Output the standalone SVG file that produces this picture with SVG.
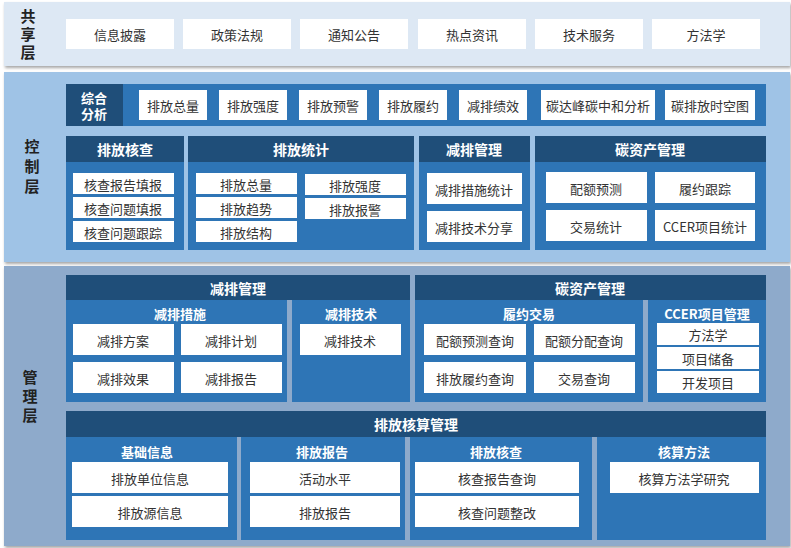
<svg xmlns="http://www.w3.org/2000/svg" width="791" height="548" viewBox="0 0 791 548">
<style>
text{font-family:"Noto Sans CJK SC","Noto Sans",sans-serif;text-anchor:middle;dominant-baseline:central}
.w{fill:#fff}
.t{font-size:13px;fill:#333}
.lay{font-size:15px;font-weight:bold;fill:#222}
.dk{fill:#1f4e79}
.md{fill:#2e75b6}
.h{font-size:14px;font-weight:bold;fill:#fff}
.s{font-size:13px;font-weight:bold;fill:#fff}
</style>
<defs><filter id="sh" x="-5%" y="-5%" width="110%" height="115%"><feDropShadow dx="1" dy="2" stdDeviation="1.5" flood-color="#000" flood-opacity="0.35"/></filter></defs>
<g id="shared">
<rect x="4" y="2" width="786" height="64" fill="#dde8f4" filter="url(#sh)"/>
<text class="lay" x="28" y="15">共</text><text class="lay" x="28" y="33">享</text><text class="lay" x="28" y="51">层</text>
<rect class="w" x="66" y="19" width="108" height="30"/><text class="t" x="120" y="34">信息披露</text>
<rect class="w" x="183" y="19" width="108" height="30"/><text class="t" x="237" y="34">政策法规</text>
<rect class="w" x="300" y="19" width="108" height="30"/><text class="t" x="354" y="34">通知公告</text>
<rect class="w" x="418" y="19" width="108" height="30"/><text class="t" x="472" y="34">热点资讯</text>
<rect class="w" x="535" y="19" width="108" height="30"/><text class="t" x="589" y="34">技术服务</text>
<rect class="w" x="652" y="19" width="108" height="30"/><text class="t" x="706" y="34">方法学</text>
</g>
<g id="control">
<rect x="4" y="72" width="786" height="190" fill="#9fc3e6" filter="url(#sh)"/>
<text class="lay" x="32" y="145">控</text><text class="lay" x="32" y="165">制</text><text class="lay" x="32" y="185">层</text>
<rect class="md" x="66" y="84" width="700" height="42"/>
<rect class="dk" x="66" y="84" width="57" height="42"/>
<text class="s" x="94" y="97">综合</text><text class="s" x="94" y="113">分析</text>
<rect class="w" x="139" y="90" width="68" height="30"/><text class="t" x="173" y="105">排放总量</text>
<rect class="w" x="219" y="90" width="68" height="30"/><text class="t" x="253" y="105">排放强度</text>
<rect class="w" x="299" y="90" width="68" height="30"/><text class="t" x="333" y="105">排放预警</text>
<rect class="w" x="379" y="90" width="68" height="30"/><text class="t" x="413" y="105">排放履约</text>
<rect class="w" x="459" y="90" width="68" height="30"/><text class="t" x="493" y="105">减排绩效</text>
<rect class="w" x="541" y="90" width="114" height="30"/><text class="t" x="598" y="105">碳达峰碳中和分析</text>
<rect class="w" x="665" y="90" width="90" height="30"/><text class="t" x="710" y="105">碳排放时空图</text>
</g>
<g id="c-verify">
<rect class="md" x="66" y="136" width="118" height="114"/><rect class="dk" x="66" y="136" width="118" height="26"/>
<text class="h" x="125" y="149">排放核查</text>
<rect class="w" x="73" y="173" width="101" height="21"/><text class="t" x="123" y="184">核查报告填报</text>
<rect class="w" x="73" y="197" width="101" height="21"/><text class="t" x="123" y="208">核查问题填报</text>
<rect class="w" x="73" y="221" width="101" height="21"/><text class="t" x="123" y="232">核查问题跟踪</text>
</g>
<g id="c-stat">
<rect class="md" x="188" y="136" width="226" height="114"/><rect class="dk" x="188" y="136" width="226" height="26"/>
<text class="h" x="301" y="149">排放统计</text>
<rect class="w" x="196" y="173" width="101" height="21"/><text class="t" x="246" y="184">排放总量</text>
<rect class="w" x="196" y="197" width="101" height="21"/><text class="t" x="246" y="208">排放趋势</text>
<rect class="w" x="196" y="221" width="101" height="21"/><text class="t" x="246" y="232">排放结构</text>
<rect class="w" x="305" y="174" width="101" height="21"/><text class="t" x="355" y="185">排放强度</text>
<rect class="w" x="305" y="198" width="101" height="21"/><text class="t" x="355" y="209">排放报警</text>
</g>
<g id="c-reduce">
<rect class="md" x="419" y="136" width="111" height="114"/><rect class="dk" x="419" y="136" width="111" height="26"/>
<text class="h" x="474" y="149">减排管理</text>
<rect class="w" x="427" y="173" width="95" height="31"/><text class="t" x="474" y="189">减排措施统计</text>
<rect class="w" x="427" y="211" width="95" height="31"/><text class="t" x="474" y="227">减排技术分享</text>
</g>
<g id="c-asset">
<rect class="md" x="535" y="136" width="231" height="114"/><rect class="dk" x="535" y="136" width="231" height="26"/>
<text class="h" x="650" y="149">碳资产管理</text>
<rect class="w" x="546" y="172" width="101" height="31"/><text class="t" x="596" y="188">配额预测</text>
<rect class="w" x="655" y="172" width="100" height="31"/><text class="t" x="705" y="188">履约跟踪</text>
<rect class="w" x="546" y="210" width="101" height="31"/><text class="t" x="596" y="226">交易统计</text>
<rect class="w" x="655" y="210" width="100" height="31"/><text class="t" x="705" y="226">CCER项目统计</text>
</g>
<g id="manage">
<rect x="4" y="266" width="786" height="280" fill="#8eaacb" filter="url(#sh)"/>
<text class="lay" x="30" y="376">管</text><text class="lay" x="30" y="395">理</text><text class="lay" x="30" y="414">层</text>
</g>
<g id="m-reduce">
<rect class="dk" x="66" y="275" width="344" height="25"/><text class="h" x="238" y="288">减排管理</text>
<rect class="md" x="66" y="300" width="221" height="102"/>
<text class="s" x="180" y="313">减排措施</text>
<rect class="w" x="73" y="324" width="101" height="31"/><text class="t" x="123" y="340">减排方案</text>
<rect class="w" x="181" y="324" width="101" height="31"/><text class="t" x="231" y="340">减排计划</text>
<rect class="w" x="73" y="362" width="101" height="31"/><text class="t" x="123" y="378">减排效果</text>
<rect class="w" x="181" y="362" width="101" height="31"/><text class="t" x="231" y="378">减排报告</text>
<rect class="md" x="292" y="300" width="118" height="102"/>
<text class="s" x="351" y="313">减排技术</text>
<rect class="w" x="300" y="324" width="101" height="31"/><text class="t" x="350" y="340">减排技术</text>
</g>
<g id="m-asset">
<rect class="dk" x="415" y="275" width="351" height="25"/><text class="h" x="590" y="288">碳资产管理</text>
<rect class="md" x="415" y="300" width="228" height="102"/>
<text class="s" x="529" y="313">履约交易</text>
<rect class="w" x="424" y="324" width="102" height="31"/><text class="t" x="475" y="340">配额预测查询</text>
<rect class="w" x="534" y="324" width="101" height="31"/><text class="t" x="584" y="340">配额分配查询</text>
<rect class="w" x="424" y="362" width="102" height="31"/><text class="t" x="475" y="378">排放履约查询</text>
<rect class="w" x="534" y="362" width="101" height="31"/><text class="t" x="584" y="378">交易查询</text>
<rect class="md" x="648" y="300" width="118" height="102"/>
<text class="s" x="707" y="313">CCER项目管理</text>
<rect class="w" x="657" y="323" width="102" height="22"/><text class="t" x="708" y="334">方法学</text>
<rect class="w" x="657" y="347" width="102" height="22"/><text class="t" x="708" y="358">项目储备</text>
<rect class="w" x="657" y="371" width="102" height="22"/><text class="t" x="708" y="382">开发项目</text>
</g>
<g id="m-account">
<rect class="dk" x="66" y="411" width="700" height="26"/><text class="h" x="416" y="424">排放核算管理</text>
<rect class="md" x="66" y="437" width="171" height="103"/><text class="s" x="147" y="451">基础信息</text>
<rect class="w" x="72" y="462" width="156" height="31"/><text class="t" x="150" y="478">排放单位信息</text>
<rect class="w" x="72" y="496" width="156" height="31"/><text class="t" x="150" y="512">排放源信息</text>
<rect class="md" x="241" y="437" width="164" height="103"/><text class="s" x="322" y="451">排放报告</text>
<rect class="w" x="250" y="462" width="150" height="31"/><text class="t" x="325" y="478">活动水平</text>
<rect class="w" x="250" y="496" width="150" height="31"/><text class="t" x="325" y="512">排放报告</text>
<rect class="md" x="410" y="437" width="182" height="103"/><text class="s" x="496" y="451">排放核查</text>
<rect class="w" x="415" y="462" width="164" height="31"/><text class="t" x="497" y="478">核查报告查询</text>
<rect class="w" x="415" y="496" width="164" height="31"/><text class="t" x="497" y="512">核查问题整改</text>
<rect class="md" x="597" y="437" width="169" height="103"/><text class="s" x="684" y="451">核算方法</text>
<rect class="w" x="610" y="462" width="149" height="31"/><text class="t" x="684" y="478">核算方法学研究</text>
</g>
<g id="connectors"/>
</svg>
